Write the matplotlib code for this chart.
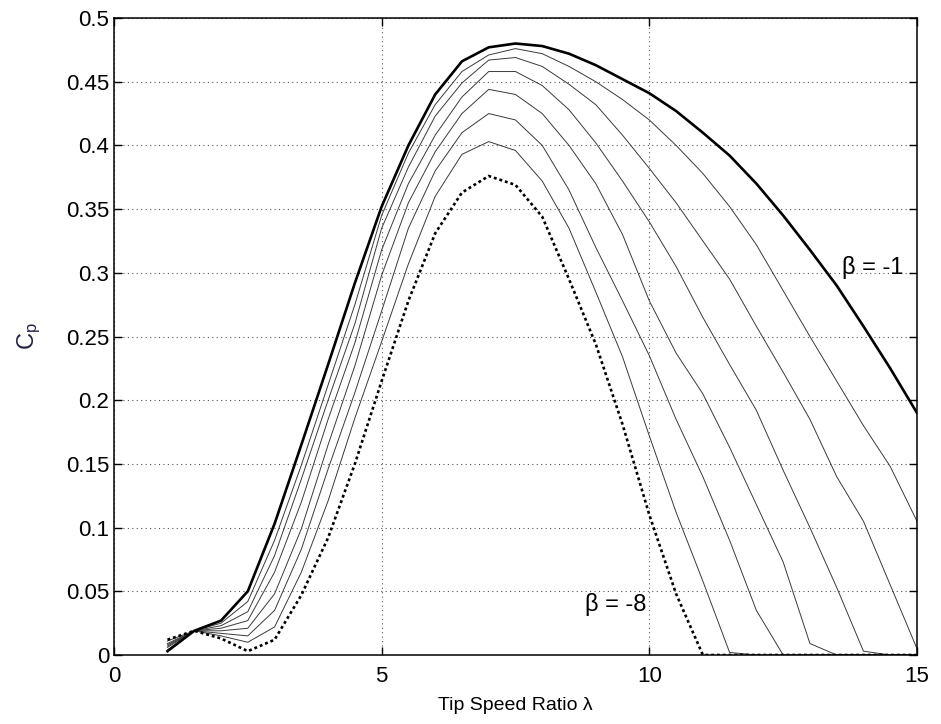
import matplotlib.pyplot as plt
import numpy as np

# tip speed ratio samples
tsr = [1, 1.5, 2, 2.5, 3, 3.5, 4, 4.5, 5, 5.5, 6, 6.5, 7, 7.5, 8, 8.5, 9, 9.5,
       10, 10.5, 11, 11.5, 12, 12.5, 13, 13.5, 14, 14.5, 15]

# Cp curves, beta = -1 ... -8
cp_b1 = [0.003, 0.019, 0.027, 0.050, 0.103, 0.165, 0.228, 0.292, 0.352, 0.400, 0.440, 0.466, 0.477, 0.480, 0.478,
         0.472, 0.463, 0.452, 0.441, 0.427, 0.410, 0.392, 0.370, 0.345, 0.318, 0.290, 0.258, 0.225, 0.190]
cp_b2 = [0.004, 0.019, 0.025, 0.042, 0.090, 0.149, 0.212, 0.275, 0.345, 0.394, 0.432, 0.458, 0.471, 0.476, 0.472,
         0.462, 0.450, 0.436, 0.420, 0.400, 0.378, 0.352, 0.322, 0.286, 0.250, 0.215, 0.180, 0.148, 0.105]
cp_b3 = [0.006, 0.019, 0.023, 0.034, 0.078, 0.138, 0.200, 0.260, 0.335, 0.383, 0.423, 0.449, 0.467, 0.469, 0.462,
         0.448, 0.432, 0.408, 0.382, 0.355, 0.325, 0.295, 0.258, 0.222, 0.185, 0.140, 0.105, 0.055, 0.005]
cp_b4 = [0.007, 0.019, 0.021, 0.027, 0.065, 0.120, 0.185, 0.245, 0.318, 0.370, 0.408, 0.438, 0.458, 0.458, 0.447,
         0.428, 0.402, 0.372, 0.340, 0.305, 0.265, 0.228, 0.192, 0.145, 0.100, 0.053, 0.003, 0.0, 0.0]
cp_b5 = [0.008, 0.019, 0.019, 0.021, 0.048, 0.099, 0.165, 0.227, 0.298, 0.355, 0.395, 0.425, 0.444, 0.440, 0.425,
         0.400, 0.370, 0.330, 0.278, 0.237, 0.205, 0.163, 0.118, 0.073, 0.009, 0.0, 0.0, 0.0, 0.0]
cp_b6 = [0.009, 0.019, 0.017, 0.015, 0.035, 0.083, 0.146, 0.206, 0.270, 0.335, 0.380, 0.410, 0.425, 0.420, 0.400,
         0.365, 0.320, 0.278, 0.235, 0.185, 0.140, 0.090, 0.035, 0.0, 0.0, 0.0, 0.0, 0.0, 0.0]
cp_b7 = [0.011, 0.019, 0.015, 0.010, 0.022, 0.065, 0.121, 0.186, 0.246, 0.307, 0.360, 0.393, 0.403, 0.396, 0.372,
         0.335, 0.285, 0.234, 0.172, 0.112, 0.058, 0.002, 0.0, 0.0, 0.0, 0.0, 0.0, 0.0, 0.0]
cp_b8 = [0.012, 0.019, 0.013, 0.003, 0.012, 0.047, 0.092, 0.150, 0.215, 0.278, 0.331, 0.363, 0.376, 0.369, 0.344,
         0.295, 0.244, 0.181, 0.110, 0.048, 0.0, 0.0, 0.0, 0.0, 0.0, 0.0, 0.0, 0.0, 0.0]

xticks = [0, 5, 10, 15]
yticks = [0, 0.05, 0.1, 0.15, 0.2, 0.25, 0.3, 0.35, 0.4, 0.45, 0.5]
yticklabels = ['0', '0.05', '0.1', '0.15', '0.2', '0.25', '0.3', '0.35', '0.4', '0.45', '0.5']

plt.rcParams['font.family'] = ['Liberation Sans', 'DejaVu Sans']

fig = plt.figure(figsize=(9.41, 7.24), dpi=100)
ax = fig.add_axes([0.1211, 0.0953, 0.8534, 0.8798])

thin = [cp_b2, cp_b3, cp_b4, cp_b5, cp_b6, cp_b7]
for c in thin:
    ax.plot(tsr, c, color='#3a3a3a', lw=0.7)
ax.plot(tsr, cp_b1, color='black', lw=1.9)
ax.plot(tsr, cp_b8, color='black', lw=1.9, linestyle=(0, (1.1, 1.1)))

ax.set_xlim(0, 15)
ax.set_ylim(0, 0.5)
ax.set_xticks(xticks)
ax.set_yticks(yticks)
ax.set_yticklabels(yticklabels)
ax.grid(True, color='#555555', linestyle=(0, (1, 3)), lw=0.8)
ax.tick_params(direction='in', top=True, right=True, length=6, width=1, labelsize=16)
ax.tick_params(axis='x', pad=8)
for s in ax.spines.values():
    s.set_linewidth(1.1)

ax.set_xlabel('Tip Speed Ratio λ', fontsize=14, labelpad=7)
ax.set_ylabel(r'$\mathregular{C_p}$', fontsize=17, labelpad=16, color='#202040')

ax.text(13.6, 0.304, 'β = -1', fontsize=17, va='center', ha='left')
ax.text(8.8, 0.040, 'β = -8', fontsize=17, va='center', ha='left')

fig.savefig('out.png', dpi=100)
